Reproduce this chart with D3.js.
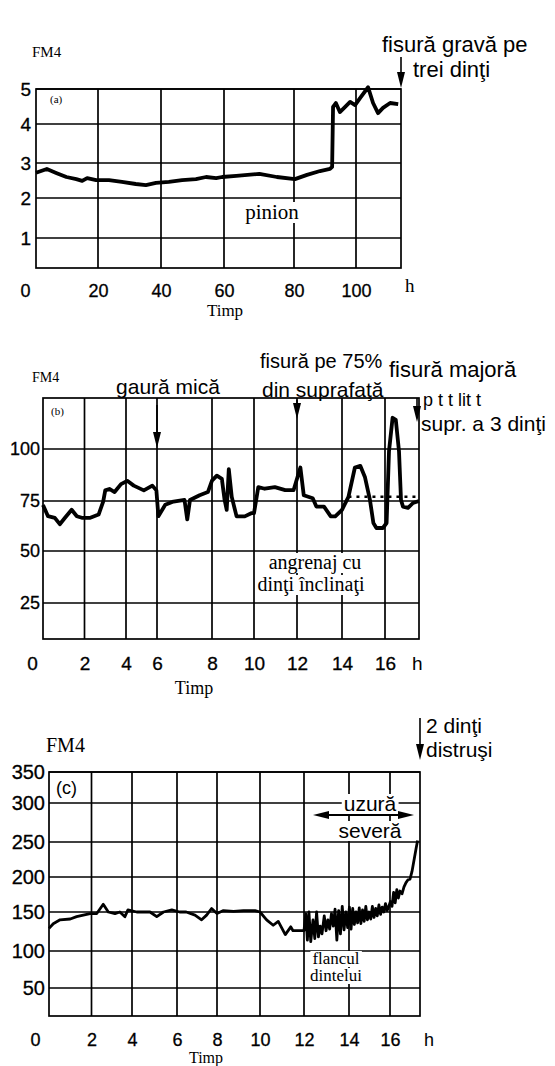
<!DOCTYPE html>
<html>
<head>
<meta charset="utf-8">
<script src="https://cdn.jsdelivr.net/npm/d3@7"></script>
<style>
  body { margin: 0; background: #fff; }
  svg { display: block; }
  .sans { font-family: "Liberation Sans", Arial, sans-serif; }
  .serif { font-family: "Liberation Serif", "Times New Roman", serif; }
</style>
</head>
<body>
<svg id="chart" width="555" height="1066"></svg>
<script>
// (a) pinion, time in hours
const hoursA = [0, 3.5, 6.7, 9.8, 13, 14.9, 16.5, 19.4, 23.5, 27.6, 32, 35.2, 38.4, 42.5, 46.7, 51.1, 54.3, 57.5,
  59.4, 63.5, 70.1, 75.1, 80.3, 84.2, 88.4, 91.6, 92.3, 92.6, 93.5, 94.8, 96.5, 98.1, 99.7, 101.3, 103.9,
  105.5, 107.1, 108.7, 111, 113.6];
const fm4A = [2.72, 2.83, 2.71, 2.6, 2.54, 2.49, 2.57, 2.51, 2.51, 2.46, 2.4, 2.37, 2.43, 2.46, 2.51, 2.54, 2.6, 2.57,
  2.6, 2.63, 2.69, 2.6, 2.54, 2.66, 2.77, 2.83, 2.89, 4.49, 4.6, 4.34, 4.49, 4.63, 4.54, 4.74, 5.05,
  4.6, 4.31, 4.46, 4.6, 4.57];
const ticksAX = [0, 20, 40, 60, 80, 100];
const ticksAY = [1, 2, 3, 4, 5];

// (b) helical gear
const hoursB = [0, 0.24, 0.57, 0.81, 1.06, 1.38, 1.63, 1.87, 2.28, 2.68, 2.9, 3.0, 3.2, 3.45, 3.76, 4.08, 4.5, 5.15,
  5.7, 5.96, 6.05, 6.3, 6.6, 7.0, 7.1, 7.2, 7.55, 7.85, 8.0, 8.23, 8.47, 8.6, 8.7, 8.8, 8.94, 9.17, 9.56, 9.87,
  10.0, 10.2, 10.5, 10.97, 11.45, 11.84, 12.15, 12.3, 12.7, 12.86, 13.2, 13.5, 13.7, 14.0, 14.3, 14.6, 14.85,
  15.07, 15.3, 15.46, 15.6, 15.9, 16.08, 16.2, 16.38, 16.54, 16.7, 16.8, 16.9, 17.15, 17.4, 17.7];
const fm4B = [73, 67.4, 66.6, 63.4, 66.6, 70.6, 67.4, 66.6, 66.6, 68.2, 74.7, 80.1, 80.8, 79.3, 83.1, 84.7, 82.4, 80.1,
  82.4, 80.1, 67.4, 73.1, 74.7, 75.5, 65.8, 75.5, 77.8, 79.3, 84.8, 87.2, 85.6, 75.5, 70.6, 90.3, 77, 67.3, 67.3, 68.9,
  68.9, 81.7, 80.9, 81.7, 80.2, 80.2, 91.1, 77.8, 76.3, 72.2, 72.2, 67.3, 67.3, 70.6, 77, 91.1, 91.9,
  86.4, 75.5, 64, 61.5, 61.5, 64, 98.9, 115, 114, 98.9, 75.5, 72.2, 71.6, 74, 75];
const ticksBX = [0, 2, 4, 6, 8, 10, 12, 14, 16];
const ticksBY = [25, 50, 75, 100];
const dottedHoursB = [14.3, 17.7];
const dottedValueB = 77;

// (c) severe wear
const hoursC = [0, 0.2, 0.52, 1.0, 1.3, 1.93, 2.26, 2.58, 2.83, 3.16, 3.4, 3.65, 3.8, 4.21, 4.8, 5.1, 5.4, 5.77,
  6.13, 6.46, 6.9, 7.23, 7.48, 7.73, 8.0, 8.3, 8.77, 9.23, 9.77, 10.0, 10.3, 10.6, 10.83, 11.15, 11.4, 11.5,
  12.0, 12.08, 12.15, 12.22, 12.3, 12.4, 12.48, 12.56, 12.64, 12.72, 12.8, 12.9, 12.98, 13.06, 13.14, 13.22,
  13.3, 13.38, 13.46, 13.54, 13.62, 13.7, 13.78, 13.86, 13.94, 14.02, 14.1, 14.18, 14.26, 14.34, 14.42, 14.5,
  14.58, 14.66, 14.74, 14.82, 14.9, 14.98, 15.06, 15.14, 15.22, 15.3, 15.38, 15.46, 15.54, 15.62, 15.7, 15.78,
  15.86, 15.94, 16.02, 16.1, 16.18, 16.26, 16.34, 16.42, 16.5, 16.6, 16.7, 16.8, 16.9, 17.0, 17.1, 17.2, 17.3, 17.38];
const fm4C = [129, 135, 140, 141, 144, 148, 148, 161, 150, 148, 150, 144, 153, 150, 150, 144, 150, 153,
  150, 150, 146, 140, 146, 155, 148, 152, 151, 152, 152, 150, 140, 133, 138, 121, 131, 126,
  126, 148, 114, 150, 112, 140, 116, 150, 118, 132, 122, 145, 126, 140, 128, 148,
  132, 154, 114, 152, 122, 158, 127, 150, 130, 157, 128, 155, 134, 150, 136, 156,
  135, 153, 138, 158, 140, 150, 141, 158, 143, 155, 145, 160, 147, 157, 150, 162,
  152, 158, 165, 158, 178, 163, 182, 170, 180, 176, 186, 192, 196, 197, 208, 224, 240, 252];
const ticksCX = [0, 2, 4, 6, 8, 10, 12, 14, 16];
const ticksCY = [50, 100, 150, 200, 250, 300, 350];

const svg = d3.select("#chart");

function arrowDown(g, x, y1, y2) {
  g.append("line").attr("x1", x).attr("x2", x).attr("y1", y1).attr("y2", y2 - 10)
    .attr("stroke", "#000").attr("stroke-width", 1.6);
  g.append("path").attr("d", `M${x - 4},${y2 - 16}L${x + 4},${y2 - 16}L${x},${y2}Z`).attr("fill", "#000");
}

function label(g, t, x, y, cls, size, anchor, bg) {
  const el = g.append("text").attr("class", cls).attr("x", x).attr("y", y)
    .attr("font-size", size).attr("text-anchor", anchor || "start").text(t);
  if (bg) {
    const b = el.node().getBBox();
    g.insert("rect", () => el.node()).attr("x", b.x - 2).attr("y", b.y + 2)
      .attr("width", b.width + 4).attr("height", b.height - 3).attr("fill", "#fff");
  }
  return el;
}

function drawPanel(p) {
  const g = svg.append("g");
  const x = d3.scaleLinear().domain([...p.xTicks, p.xEnd]).range(p.xPos);
  const yDom = p.yEnd !== undefined ? [p.yStart, ...p.yTicks, p.yEnd] : [p.yStart, ...p.yTicks];
  const y = d3.scaleLinear().domain(yDom).range(p.yPos);
  const left = x(0), right = x(p.xEnd), bottom = y(p.yStart), top = y(yDom[yDom.length - 1]);

  g.selectAll(".vg").data(p.xTicks.slice(1)).join("line")
    .attr("x1", d => x(d)).attr("x2", d => x(d)).attr("y1", top).attr("y2", bottom)
    .attr("stroke", "#000").attr("stroke-width", 1.7);
  g.selectAll(".hg").data(p.yTicks).join("line")
    .attr("x1", left).attr("x2", right).attr("y1", d => y(d)).attr("y2", d => y(d))
    .attr("stroke", "#000").attr("stroke-width", 1.7);
  g.append("rect").attr("x", left).attr("y", top).attr("width", right - left).attr("height", bottom - top)
    .attr("fill", "none").attr("stroke", "#000").attr("stroke-width", 1.7);

  // x labels
  const xa = g.append("g").attr("transform", `translate(0,${p.xLabelY})`)
    .call(d3.axisBottom(x).tickValues(p.xTicks).tickSize(0).tickPadding(0).tickFormat(d3.format("d")));
  xa.select(".domain").remove();
  xa.attr("font-family", null);
  xa.selectAll("text").attr("y", 0).attr("dy", 0).attr("class", "sans").attr("font-size", p.xFont)
    .attr("fill", "#000").attr("stroke", "#000").attr("stroke-width", 0.3)
    .attr("dx", d => d === 0 ? p.zeroShift : 0);

  // y labels
  const ya = g.append("g").attr("transform", `translate(${p.yLabelX},0)`)
    .call(d3.axisLeft(y).tickValues(p.yTicks).tickSize(0).tickPadding(0).tickFormat(d3.format("d")));
  ya.select(".domain").remove();
  ya.attr("font-family", null);
  ya.selectAll("text").attr("class", "sans").attr("font-size", p.yFont)
    .attr("fill", "#000").attr("stroke", "#000").attr("stroke-width", 0.3);

  return { g, x, y };
}

// ---------- panel (a)
const A = drawPanel({
  xTicks: ticksAX, xEnd: 114.5, xPos: [36, 98, 161, 224, 294, 356, 401],
  yStart: 0.25, yTicks: ticksAY, yPos: [268, 238, 198, 163, 124, 89],
  xLabelY: 297, yLabelX: 31, zeroShift: -11, xFont: 18, yFont: 19
});
A.g.append("path").datum(fm4A)
  .attr("d", d3.line().x((d, i) => A.x(hoursA[i])).y(d => A.y(d)))
  .attr("fill", "none").attr("stroke", "#000").attr("stroke-width", 3.8).attr("stroke-linejoin", "round");
label(A.g, "FM4", 32, 57, "serif", 15);
label(A.g, "(a)", 50, 103, "serif", 11);
label(A.g, "pinion", 272, 219, "serif", 21, "middle", true);
label(A.g, "Timp", 225, 316, "serif", 17, "middle");
label(A.g, "h", 405, 292, "serif", 19);
label(A.g, "fisură gravă pe", 382, 52, "sans", 22);
label(A.g, "trei dinţi", 413, 77, "sans", 22);
arrowDown(A.g, A.x(114.5), 57, 88);

// ---------- panel (b)
const B = drawPanel({
  xTicks: ticksBX, xEnd: 17.7, xPos: [43, 84.5, 126, 157, 212, 254, 297, 342, 385, 419],
  yStart: 7.7, yTicks: ticksBY, yEnd: 124.5, yPos: [639, 603, 551, 501, 449, 398],
  xLabelY: 670, yLabelX: 40, zeroShift: -11, xFont: 19, yFont: 18
});
B.g.append("line").attr("x1", B.x(dottedHoursB[0])).attr("x2", B.x(dottedHoursB[1]))
  .attr("y1", B.y(dottedValueB)).attr("y2", B.y(dottedValueB))
  .attr("stroke", "#000").attr("stroke-width", 2.5).attr("stroke-dasharray", "3,5");
B.g.append("path").datum(fm4B)
  .attr("d", d3.line().x((d, i) => B.x(hoursB[i])).y(d => B.y(d)))
  .attr("fill", "none").attr("stroke", "#000").attr("stroke-width", 3.8).attr("stroke-linejoin", "round");
label(B.g, "FM4", 32, 382, "serif", 14);
label(B.g, "(b)", 51, 415, "serif", 11);
label(B.g, "gaură mică", 168, 394, "sans", 21, "middle");
label(B.g, "fisură pe 75%", 260, 368, "sans", 20);
label(B.g, "din suprafaţă", 262, 397, "sans", 21);
label(B.g, "fisură majoră", 389, 377, "sans", 22);
label(B.g, "p   t   t   lit   t", 423, 406, "sans", 18);
label(B.g, "supr. a 3 dinţi", 421, 431, "sans", 21);
label(B.g, "angrenaj cu", 315, 569, "serif", 20, "middle", true);
label(B.g, "dinţi înclinaţi", 311, 591, "serif", 20, "middle", true);
label(B.g, "Timp", 194, 694, "serif", 18, "middle");
label(B.g, "h", 412, 670, "sans", 19);
arrowDown(B.g, B.x(6), 405, 448);
arrowDown(B.g, B.x(12), 400, 419);
arrowDown(B.g, B.x(17.7) - 2, 398, 422);

// ---------- panel (c)
const C = drawPanel({
  xTicks: ticksCX, xEnd: 17.5, xPos: [49, 91.5, 132, 177, 217, 260, 304, 349, 390, 420],
  yStart: 13, yTicks: ticksCY, yPos: [1016, 988, 951, 912, 877, 842, 803, 772],
  xLabelY: 1046, yLabelX: 45, zeroShift: -14, xFont: 18, yFont: 20
});
C.g.append("path").datum(fm4C)
  .attr("d", d3.line().x((d, i) => C.x(hoursC[i])).y(d => C.y(d)))
  .attr("fill", "none").attr("stroke", "#000").attr("stroke-width", 2.8).attr("stroke-linejoin", "round");
label(C.g, "FM4", 46, 752, "serif", 20);
label(C.g, "(c)", 56, 794, "sans", 18);
label(C.g, "uzură", 370, 811, "sans", 21, "middle", true);
label(C.g, "severă", 370, 838, "sans", 21, "middle", true);
label(C.g, "flancul", 336, 964, "serif", 17, "middle", true);
label(C.g, "dintelui", 336, 981, "serif", 17, "middle", true);
label(C.g, "2 dinţi", 426, 733, "sans", 21);
label(C.g, "distruşi", 426, 757, "sans", 21);
label(C.g, "Timp", 206, 1063, "serif", 16, "middle");
label(C.g, "h", 424, 1046, "sans", 18);
arrowDown(C.g, C.x(17.5), 718, 760);
// double arrow "uzură severă"
const ua = C.g.append("g");
ua.append("line").attr("x1", 322).attr("x2", 405).attr("y1", 815).attr("y2", 815)
  .attr("stroke", "#000").attr("stroke-width", 1.8);
ua.append("path").attr("d", "M313,815L329,811L329,819Z").attr("fill", "#000");
ua.append("path").attr("d", "M414,815L398,811L398,819Z").attr("fill", "#000");
</script>
</body>
</html>
